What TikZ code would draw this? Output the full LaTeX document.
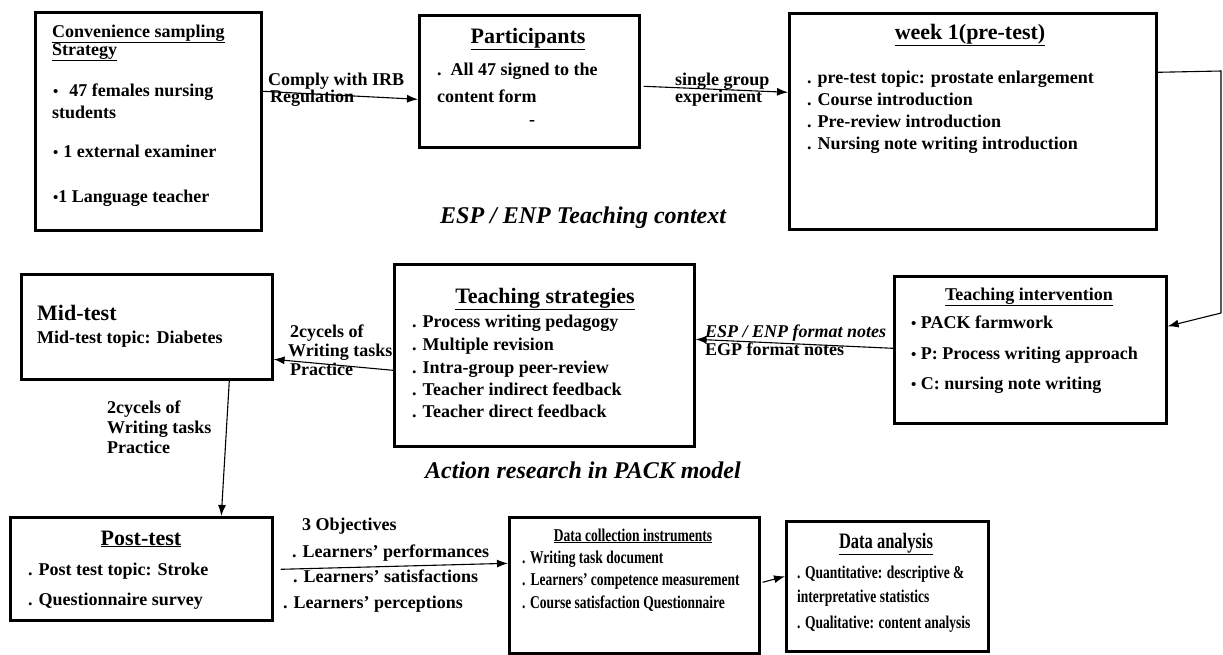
\documentclass[tikz,border=0pt]{standalone}
\usepackage{fontspec}
\setmainfont{Liberation Serif}
\newfontfamily\narrowfont[FakeStretch=0.75]{Liberation Serif}
\usetikzlibrary{arrows.meta}
\newcommand{\bdot}{{\fontsize{15}{15}\selectfont •}}
\begin{document}
\begin{tikzpicture}[x=1pt,y=-1pt,
  box/.style={draw=black, line width=2.6pt, inner sep=0pt, anchor=north west},
  tx/.style={anchor=base west, inner sep=0pt, font=\fontsize{18}{22}\selectfont\bfseries},
  tt/.style={anchor=base, inner sep=0pt, font=\fontsize{22}{26}\selectfont\bfseries},
  ntx/.style={anchor=base west, inner sep=0pt, font=\narrowfont\fontsize{18}{22}\selectfont\bfseries},
  ntt/.style={anchor=base, inner sep=0pt, font=\narrowfont\fontsize{22}{26}\selectfont\bfseries},
  captxt/.style={anchor=base west, inner sep=0pt, font=\fontsize{24}{28}\selectfont\bfseries\itshape},
  arr/.style={line width=1.1pt, -{Latex[length=11pt,width=8pt]}},
  ln/.style={line width=1.1pt}]
\useasboundingbox (0,0) rectangle (1223,654);

% ---------- boxes ----------
\node[box, minimum width=226pt, minimum height=218pt] (b1) at (34,11) {};
\node[box, minimum width=220pt, minimum height=132pt] (b2) at (418,14) {};
\node[box, minimum width=367pt, minimum height=216pt] (b3) at (788,12) {};
\node[box, minimum width=251pt, minimum height=105pt] (b4) at (20,273) {};
\node[box, minimum width=300pt, minimum height=182pt] (b5) at (393,263) {};
\node[box, minimum width=272pt, minimum height=147pt] (b6) at (893,275) {};
\node[box, minimum width=262pt, minimum height=103pt] (b7) at (9,516) {};
\node[box, minimum width=250pt, minimum height=136pt] (b8) at (508,516) {};
\node[box, minimum width=202pt, minimum height=130pt] (b9) at (785,520) {};

% ---------- box 1 ----------
\node[tx] (t1a) at (52,37) {\underline{Convenience sampling}};
\node[tx] (t1b) at (52,55) {\underline{Strategy}};
\node[tx] (t1c) at (53,96) {\bdot\hspace{11pt}47 females nursing};
\node[tx] (t1d) at (52,118) {students};
\node[tx] (t1e) at (53,157) {\bdot\hspace{5pt}1 external examiner};
\node[tx] (t1f) at (53,202) {\bdot 1 Language teacher};

% ---------- box 2 ----------
\node[tt] (t2a) at (528,43) {\underline{Participants}};
\node[tx] (t2b) at (437,75) {.\hspace{9pt}All 47 signed to the};
\node[tx] (t2c) at (437,102) {content form};
\node[tx] (t2d) at (529,125) {-};

% ---------- box 3 ----------
\node[tt] (t3a) at (970,39) {\underline{week 1(pre-test)}};
\node[tx] (t3b) at (807,83) {. pre-test topic: prostate enlargement};
\node[tx] (t3c) at (807,105) {. Course introduction};
\node[tx] (t3d) at (807,127) {. Pre-review introduction};
\node[tx] (t3e) at (807,149) {. Nursing note writing introduction};

% ---------- box 4 ----------
\node[tx, font=\fontsize{22}{26}\selectfont\bfseries] (t4a) at (37,320) {Mid-test};
\node[tx] (t4b) at (37,343) {Mid-test topic: Diabetes};

% ---------- box 5 ----------
\node[tt] (t5a) at (545,303) {\underline{Teaching strategies}};
\node[tx] (t5b) at (412,327) {. Process writing pedagogy};
\node[tx] (t5c) at (412,350) {. Multiple revision};
\node[tx] (t5d) at (412,373) {. Intra-group peer-review};
\node[tx] (t5e) at (412,395) {. Teacher indirect feedback};
\node[tx] (t5f) at (412,417) {. Teacher direct feedback};

% ---------- box 6 ----------
\node[tt, font=\fontsize{18}{22}\selectfont\bfseries] (t6a) at (1029,300) {\underline{Teaching intervention}};
\node[tx] (t6b) at (911,328) {\bdot\ PACK farmwork};
\node[tx] (t6c) at (911,359) {\bdot\ P: Process writing approach};
\node[tx] (t6d) at (911,389) {\bdot\ C: nursing note writing};

% ---------- box 7 ----------
\node[tt] (t7a) at (141,545) {\underline{Post-test}};
\node[tx] (t7b) at (28,575) {. Post test topic: Stroke};
\node[tx] (t7c) at (28,605) {. Questionnaire survey};

% ---------- box 8 ----------
\node[ntt, font=\narrowfont\fontsize{18}{22}\selectfont\bfseries] (t8a) at (633,541) {\underline{Data collection instruments}};
\node[ntx] (t8b) at (522,563) {. Writing task document};
\node[ntx] (t8c) at (522,585) {.\hspace{5pt}Learners’ competence measurement};
\node[ntx] (t8d) at (522,608) {. Course satisfaction Questionnaire};

% ---------- box 9 ----------
\node[ntt] (t9a) at (886,548) {\underline{Data analysis}};
\node[ntx] (t9b) at (797,578) {. Quantitative: descriptive \&};
\node[ntx] (t9c) at (797,602) {interpretative statistics};
\node[ntx] (t9d) at (797,628) {. Qualitative: content analysis};

% ---------- captions ----------
\node[captxt] (cap1) at (440,223) {ESP / ENP Teaching context};
\node[captxt] (cap2) at (425,478) {Action research in PACK model};

% ---------- connectors ----------
\draw[arr] ([yshift=30pt]b1.east) -- ([yshift=-18pt]b2.west);
\node[tx] (l1a) at (268,85) {Comply with IRB};
\node[tx] (l1b) at (270,102) {Regulation};

\draw[arr] ([xshift=3pt,yshift=-5pt]b2.east) -- ([yshift=29pt]b3.west);
\node[tx] (l2a) at (675,85) {single group};
\node[tx] (l2b) at (675,102) {experiment};

\coordinate (c1) at (1221,71);
\coordinate (c2) at (1221,313);
\draw[ln] ([yshift=49pt]b3.east) -- (c1) -- (c2);
\draw[arr] (c2) -- ([yshift=23.5pt]b6.east);

\draw[arr] ([yshift=1.5pt]b6.west) -- ([yshift=16pt]b5.east);
\node[tx, font=\fontsize{18}{22}\selectfont\bfseries\itshape] (l3a) at (705,337) {ESP / ENP format notes};
\node[tx] (l3b) at (705,355) {EGP format notes};

\draw[arr] ([yshift=-15pt]b5.west) -- ([yshift=-32.5pt]b4.east);
\node[tx] (l4a) at (290,337) {2cycels of};
\node[tx] (l4b) at (288,356) {Writing tasks};
\node[tx] (l4c) at (290,375) {Practice};

\draw[arr] ([xshift=82.5pt]b4.south) -- ([xshift=80pt]b7.north);
\node[tx] (l5a) at (107,413) {2cycels of};
\node[tx] (l5b) at (107,433) {Writing tasks};
\node[tx] (l5c) at (107,453) {Practice};

\draw[arr] ([xshift=7pt,yshift=-0.5pt]b7.east) -- ([yshift=22pt]b8.west);
\node[tx] (l6a) at (302,530) {3 Objectives};
\node[tx] (l6b) at (292,557) {. Learners’ performances};
\node[tx] (l6c) at (293,582) {. Learners’ satisfactions};
\node[tx] (l6d) at (283,608) {. Learners’ perceptions};

\draw[arr] ([xshift=2pt,yshift=3pt]b8.east) -- ([yshift=10pt]b9.west);
\end{tikzpicture}
\end{document}
